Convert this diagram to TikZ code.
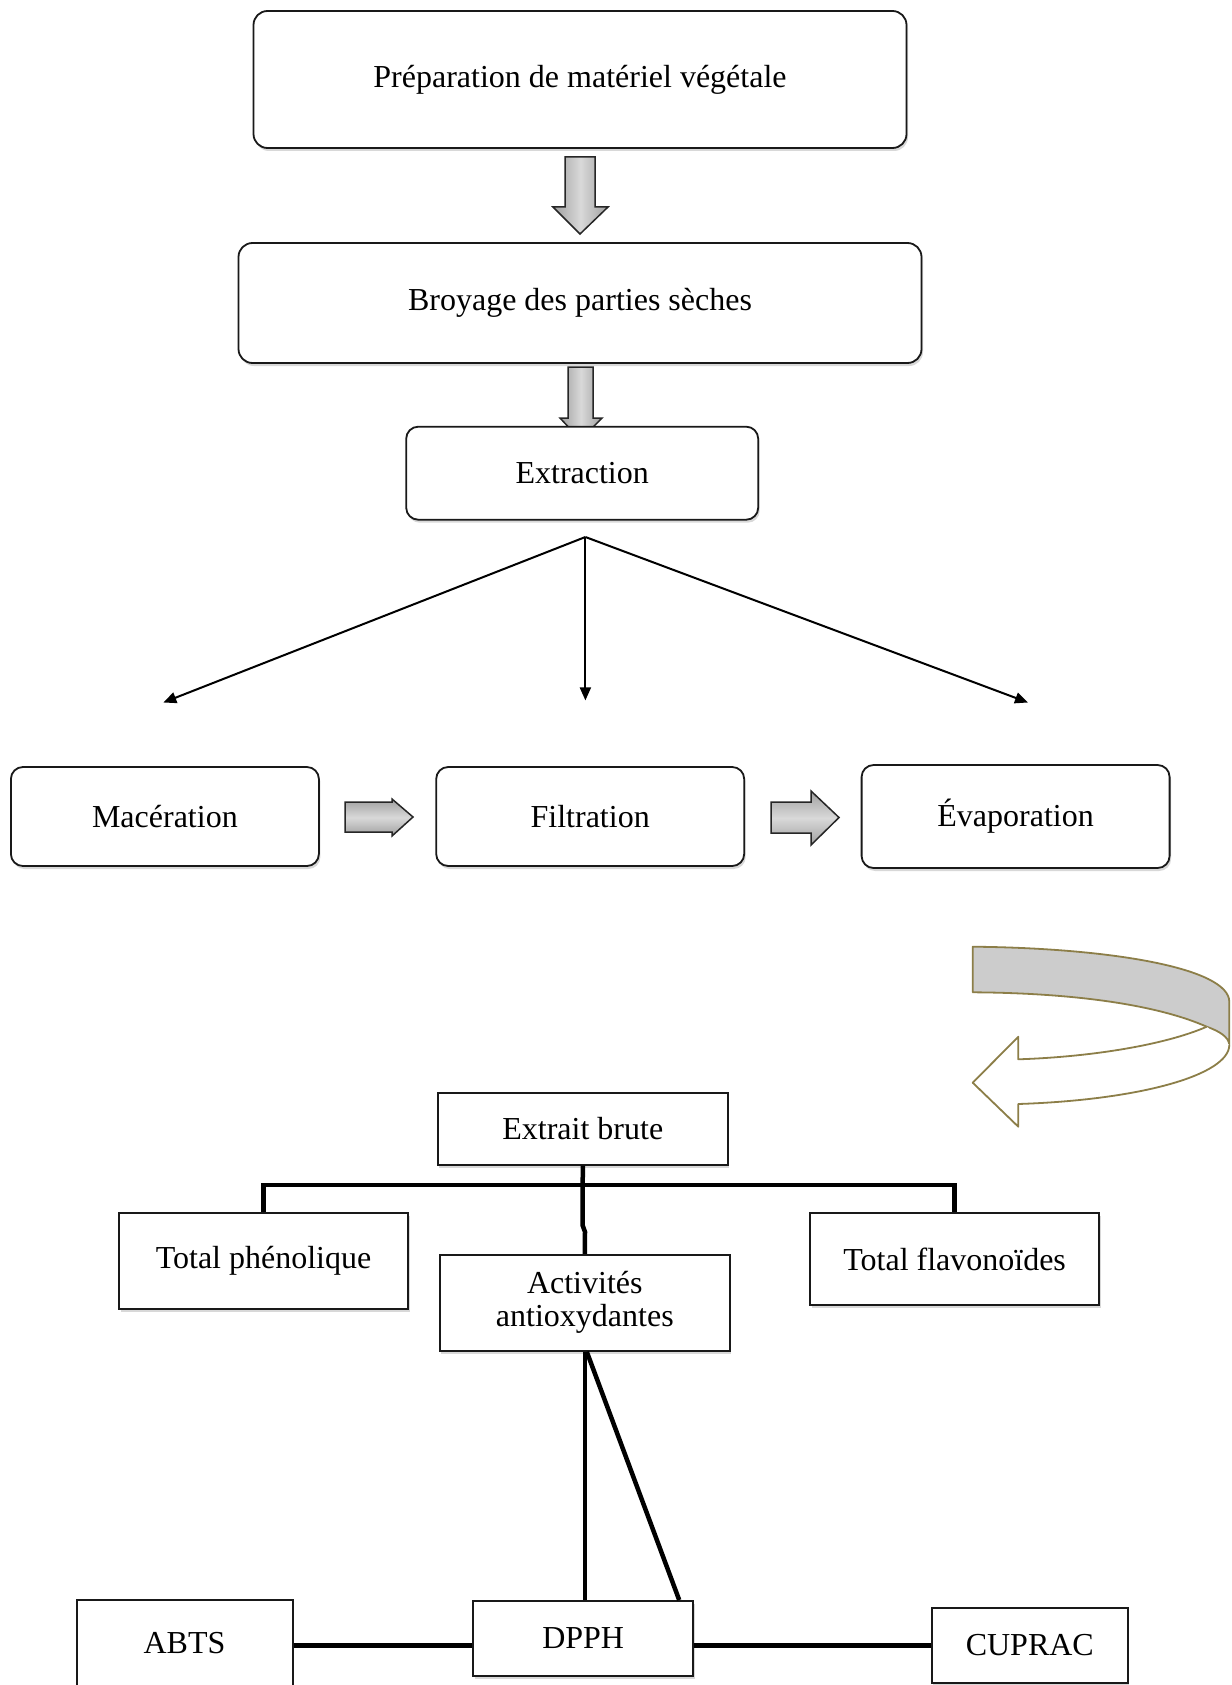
\documentclass[tikz,border=0pt]{standalone}
\usepackage{fontspec}
\setmainfont{Liberation Serif}
\usetikzlibrary{arrows.meta,shadows,calc}
\definecolor{olive}{RGB}{140,126,72}
\tikzset{
  rbox/.style={draw=black!90, line width=1.8pt, rounded corners=14pt, fill=white, inner sep=0pt,
    anchor=center, font=\fontsize{32}{36}\selectfont,
    drop shadow={opacity=0.3, shadow xshift=1.5pt, shadow yshift=-3pt}},
  sbox/.style={draw=black!90, line width=2pt, fill=white, inner sep=0pt, anchor=center,
    align=center, font=\fontsize{32}{33}\selectfont,
    drop shadow={opacity=0.3, shadow xshift=1.5pt, shadow yshift=-3pt}},
  garrowv/.style={draw=black!85, line width=1.5pt, left color=gray!75, right color=gray!75, middle color=gray!30},
  garrowh/.style={draw=black!85, line width=1.5pt, top color=gray!75, bottom color=gray!75, middle color=gray!30},
  thinarr/.style={line width=2pt, -{Triangle[length=13pt,width=11pt]}},
  bar/.style={line width=4.5pt},
}
\begin{document}
\begin{tikzpicture}[x=1pt,y=-1pt]
\useasboundingbox (0,0) rectangle (1231,1685);
\fill[white] (0,0) rectangle (1231,1685);

% gray down arrows (drawn before boxes)
\draw[garrowv] (565,157) -- (595,157) -- (595,207) -- (608,207) -- (580,234) -- (553,207) -- (565,207) -- cycle;
\draw[garrowv] (568,367) -- (593,367) -- (593,418) -- (602,418) -- (580.5,440) -- (560,418) -- (568,418) -- cycle;

% upper boxes
\node[rbox, minimum width=653pt, minimum height=137pt] (prep) at (580,79.5) {Préparation de matériel végétale};
\node[rbox, minimum width=683pt, minimum height=120pt] (broy) at (580,303) {Broyage des parties sèches};
\node[rbox, minimum width=352pt, minimum height=93pt, rounded corners=12pt] (extr) at (582.2,473.2) {Extraction};

\node[rbox, minimum width=308pt, minimum height=99pt, rounded corners=12pt] (mac) at (164.9,816.5) {Macération};
\node[rbox, minimum width=308pt, minimum height=99pt, rounded corners=12pt] (fil) at (590.2,816.5) {Filtration};
\node[rbox, minimum width=308pt, minimum height=103pt, rounded corners=12pt] (eva) at (1015.6,816.5) {Évaporation};

% thin arrows
\coordinate (fork) at (585.4,537);
\coordinate (tl) at (163.3,702.5);
\coordinate (tm) at (585.4,700.4);
\coordinate (tr) at (1028,702.5);
\draw[thinarr] (fork) -- (tl);
\draw[thinarr] (fork) -- (tm);
\draw[thinarr] (fork) -- (tr);

% gray right arrows
\draw[garrowh] (345,802) -- (392,802) -- (392,799) -- (413,817) -- (392,836) -- (392,832) -- (345,832) -- cycle;
\draw[garrowh] (771,802) -- (811,802) -- (811,791) -- (839,817.5) -- (811,845) -- (811,833) -- (771,833) -- cycle;

% curved U-turn arrow
\draw[olive, line width=1.8pt, fill=black!20, line join=round]
  (972.7,946.7) .. controls (1110,948) and (1229,968) .. (1229.3,1001.7)
  -- (1229.3,1045) .. controls (1229,1037) and (1219,1031) .. (1206.7,1026.7)
  .. controls (1160,1006) and (1080,993) .. (972.7,992.3) -- cycle;
\draw[olive, line width=1.8pt, fill=white, line join=round]
  (1206.7,1026.7) .. controls (1165,1045) and (1090,1057) .. (1018.3,1059.3)
  -- (1018.3,1036.7) -- (972.7,1082.7) -- (1018.3,1126.7) -- (1018.3,1104)
  .. controls (1140,1100) and (1229,1075) .. (1229.3,1045);

% lower tree
\node[sbox, minimum width=290pt, minimum height=72pt] (ext) at (582.8,1128.7) {Extrait brute};
\node[sbox, minimum width=289pt, minimum height=96pt] (tp) at (263.5,1261) {Total phénolique};
\node[sbox, minimum width=289pt, minimum height=92pt] (tf) at (954.6,1258.9) {Total flavonoïdes};
\node[sbox, minimum width=290pt, minimum height=96pt] (act) at (584.8,1302.8) {Activités\\antioxydantes};
\node[sbox, minimum width=220pt, minimum height=75pt] (dpph) at (583.2,1638.5) {DPPH};
\node[sbox, minimum width=216pt, minimum height=88pt] (abts) at (184.5,1643.5) {ABTS};
\node[sbox, minimum width=196pt, minimum height=75pt] (cup) at (1029.8,1645) {CUPRAC};

\coordinate (j) at (582.5,1185);
\draw[bar] (tp.north) |- (j) -| (tf.north);
\draw[bar] (ext.south) -- (582.5,1225) -- (585,1232) -- (act.north);
\draw[bar] (act.south) -- (act.south |- dpph.north);
\draw[bar] ($(act.south)+(2,0)$) -- ($(dpph.north east)+(-15,0)$);
\draw[bar] (abts.east |- 0,1645.7) -- (dpph.west |- 0,1645.7);
\draw[bar] (dpph.east |- 0,1645.7) -- (cup.west |- 0,1645.7);
\end{tikzpicture}
\end{document}
